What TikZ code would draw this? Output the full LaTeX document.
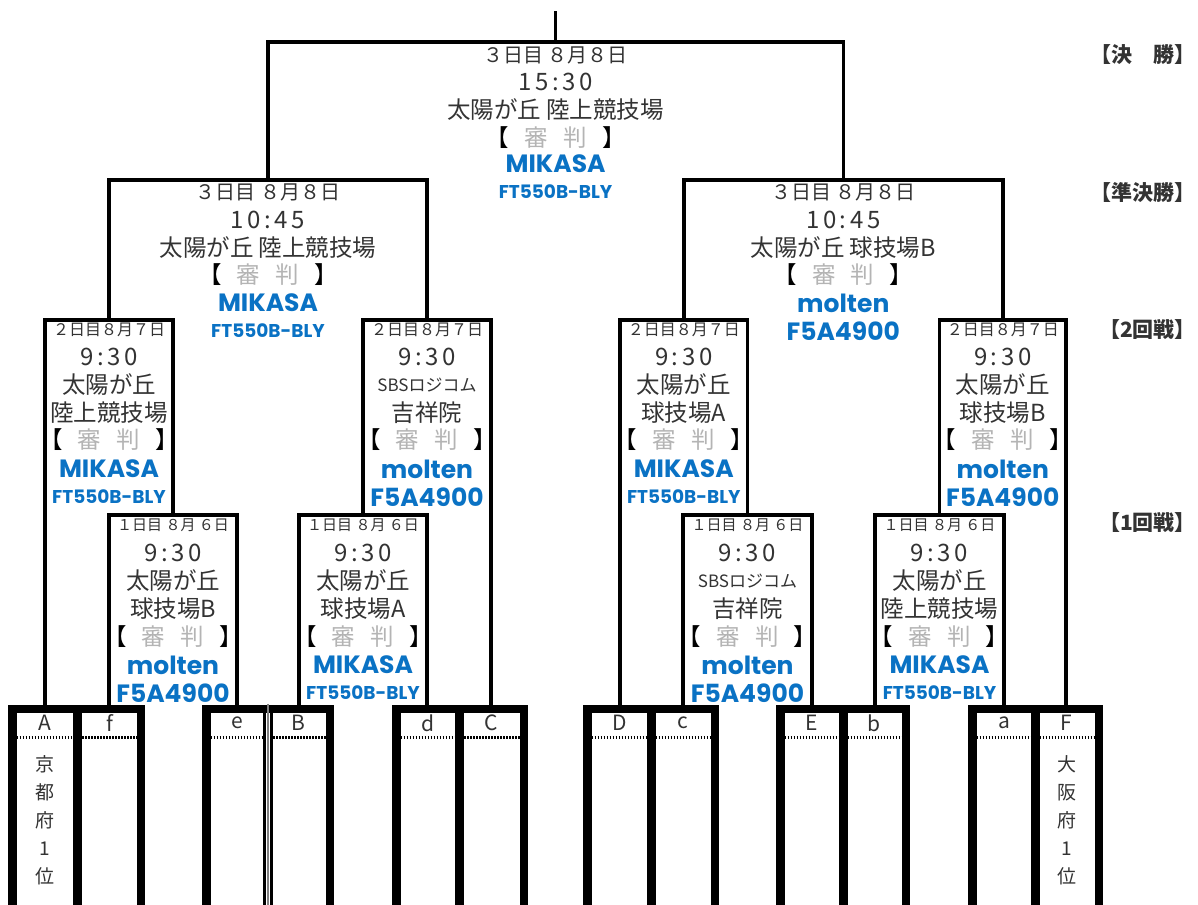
\documentclass[tikz,border=0pt]{standalone}
\usepackage{fontspec}
\setmainfont{Noto Sans CJK JP}
\newfontfamily\pop{Poppins}
\definecolor{txt}{HTML}{333333}
\definecolor{brandc}{HTML}{0A72C4}
\definecolor{judgec}{HTML}{B4B4B4}
\newcommand\fs[1]{\fontsize{#1}{#1}\selectfont}
\newcommand\shinpan{\textcolor{black}{【}\hspace{0.65em}\textcolor{judgec}{審}\hspace{0.65em}\textcolor{judgec}{判}\hspace{0.65em}\textcolor{black}{】}}
\tikzset{
  bracket/.style={line width=3.5pt, line join=miter, line cap=rect},
  dbig/.style={font=\fs{20}, text=txt, inner sep=0pt},
  dmid/.style={font=\fs{16}, text=txt, inner sep=0pt},
  dsmall/.style={font=\fs{15}, text=txt, inner sep=0pt},
  timet/.style={font=\fs{24}\addfontfeature{LetterSpace=15}, text=txt, inner sep=0pt},
  venue/.style={font=\fs{23.5}, text=txt, inner sep=0pt},
  venuesm/.style={font=\fs{17}, text=txt, inner sep=0pt},
  judge/.style={font=\fs{23.5}, inner sep=0pt},
  brand/.style={font=\pop\bfseries\fs{25}, text=brandc, inner sep=0pt},
  model/.style={font=\pop\bfseries\fs{18.5}, text=brandc, inner sep=0pt},
  tlabel/.style={font=\fs{21}, text=txt, inner sep=0pt},
  vtext/.style={font=\fs{19}, text=txt, inner sep=0pt, align=center},
  rlabel/.style={font=\bfseries\fs{21}, text=txt, inner sep=0pt, anchor=east},
  thick box/.style={line width=8.5pt},
  divider/.style={line width=9pt},
  dotline/.style={line width=3pt, dash pattern=on 1.6pt off 1.4pt},
}
\newcommand\mikasa[3]{%
  \node[brand] (#1-b) at (#2,#3) {MIKASA};
  \node[model] (#1-m) at (#2,#3+28) {FT550B-BLY};}
\newcommand\molten[3]{%
  \node[brand] (#1-b) at (#2,#3) {molten};
  \node[brand] (#1-m) at (#2,#3+28) {F5A4900};}
\newcommand\pairbox[3]{%
  \draw[thick box] (#1+4.25,709) rectangle (#2-4.25,940);
  \draw[divider] (#3,709) -- (#3,940);
  \draw[dotline] (#1+8.5,737) -- (#3-4.5,737);
  \draw[dotline] (#3+4.5,737) -- (#2-8.5,737);}
\begin{document}
\begin{tikzpicture}[x=1pt,y=-1pt]
\clip (0,0) rectangle (1198,904);
\fill[white] (0,0) rectangle (1198,904);
% team tops
\coordinate (tA) at (45,705);   \coordinate (tf) at (109,705);
\coordinate (te) at (237,705);  \coordinate (tB) at (299,705);
\coordinate (td) at (427,705);  \coordinate (tC) at (491,705);
\coordinate (tD) at (620,705);  \coordinate (tc) at (683,705);
\coordinate (tE) at (812,705);  \coordinate (tb) at (875,705);
\coordinate (ta) at (1004,705); \coordinate (tF) at (1066,705);
% match points
\coordinate (m1a) at (173,515);   \coordinate (m1b) at (363,515);
\coordinate (m1c) at (747.5,515); \coordinate (m1d) at (939.5,515);
\coordinate (m2a) at (109,320);   \coordinate (m2b) at (427,320);
\coordinate (m2c) at (683.75,320);\coordinate (m2d) at (1002.75,320);
\coordinate (msL) at (268,180);   \coordinate (msR) at (843.25,180);
\coordinate (mF) at (555.6,42);   \coordinate (top) at (555.6,13);
% brackets
\draw[bracket] (tf) |- (m1a) -| (te);
\draw[bracket] (tB) |- (m1b) -| (td);
\draw[bracket] (tc) |- (m1c) -| (tE);
\draw[bracket] (tb) |- (m1d) -| (ta);
\draw[bracket] (tA) |- (m2a) -| (m1a);
\draw[bracket] (m1b) |- (m2b) -| (tC);
\draw[bracket] (tD) |- (m2c) -| (m1c);
\draw[bracket] (m1d) |- (m2d) -| (tF);
\draw[bracket] (m2a) |- (msL) -| (m2b);
\draw[bracket] (m2c) |- (msR) -| (m2d);
\draw[bracket] (msL) |- (mF) -| (msR);
\draw[bracket] (mF) -- (top);
% final
\node[dbig] (F-d) at (555.6,55) {３日目 ８月８日};
\node[timet] (F-t) at (555.6,82) {15:30};
\node[venue] (F-v) at (555.6,110) {太陽が丘 陸上競技場};
\node[judge] (F-j) at (555.6,138) {\shinpan};
\mikasa{F}{555.6}{164}
% semi left
\node[dbig] (SL-d) at (268,192) {３日目 ８月８日};
\node[timet] (SL-t) at (268,220) {10:45};
\node[venue] (SL-v) at (268,248) {太陽が丘 陸上競技場};
\node[judge] (SL-j) at (268,275) {\shinpan};
\mikasa{SL}{268}{303}
% semi right
\node[dbig] (SR-d) at (843.25,192) {３日目 ８月８日};
\node[timet] (SR-t) at (843.25,220) {10:45};
\node[venue] (SR-v) at (843.25,248) {太陽が丘 球技場B};
\node[judge] (SR-j) at (843.25,275) {\shinpan};
\molten{SR}{843.25}{303}
% round 2
\node[dmid] (A2-d) at (109,330) {２日目８月７日};
\node[timet] (A2-t) at (109,357) {9:30};
\node[venue] (A2-v) at (109,385) {太陽が丘};
\node[venue] (A2-w) at (109,413) {陸上競技場};
\node[judge] (A2-j) at (109,440) {\shinpan};
\mikasa{A2}{109}{469}
\node[dmid] (B2-d) at (427,330) {２日目８月７日};
\node[timet] (B2-t) at (427,357) {9:30};
\node[venuesm] (B2-v) at (427,385) {SBSロジコム};
\node[venue] (B2-w) at (427,413) {吉祥院};
\node[judge] (B2-j) at (427,440) {\shinpan};
\molten{B2}{427}{469}
\node[dmid] (C2-d) at (683.75,330) {２日目８月７日};
\node[timet] (C2-t) at (683.75,357) {9:30};
\node[venue] (C2-v) at (683.75,385) {太陽が丘};
\node[venue] (C2-w) at (683.75,413) {球技場A};
\node[judge] (C2-j) at (683.75,440) {\shinpan};
\mikasa{C2}{683.75}{469}
\node[dmid] (D2-d) at (1002.75,330) {２日目８月７日};
\node[timet] (D2-t) at (1002.75,357) {9:30};
\node[venue] (D2-v) at (1002.75,385) {太陽が丘};
\node[venue] (D2-w) at (1002.75,413) {球技場B};
\node[judge] (D2-j) at (1002.75,440) {\shinpan};
\molten{D2}{1002.75}{469}
% round 1
\node[dsmall] (A1-d) at (173,525) {１日目 ８月 ６日};
\node[timet] (A1-t) at (173,553) {9:30};
\node[venue] (A1-v) at (173,581) {太陽が丘};
\node[venue] (A1-w) at (173,609) {球技場B};
\node[judge] (A1-j) at (173,637) {\shinpan};
\molten{A1}{173}{665}
\node[dsmall] (B1-d) at (363,525) {１日目 ８月 ６日};
\node[timet] (B1-t) at (363,553) {9:30};
\node[venue] (B1-v) at (363,581) {太陽が丘};
\node[venue] (B1-w) at (363,609) {球技場A};
\node[judge] (B1-j) at (363,637) {\shinpan};
\mikasa{B1}{363}{665}
\node[dsmall] (C1-d) at (747.5,525) {１日目 ８月 ６日};
\node[timet] (C1-t) at (747.5,553) {9:30};
\node[venuesm] (C1-v) at (747.5,581) {SBSロジコム};
\node[venue] (C1-w) at (747.5,609) {吉祥院};
\node[judge] (C1-j) at (747.5,637) {\shinpan};
\molten{C1}{747.5}{665}
\node[dsmall] (D1-d) at (939.5,525) {１日目 ８月 ６日};
\node[timet] (D1-t) at (939.5,553) {9:30};
\node[venue] (D1-v) at (939.5,581) {太陽が丘};
\node[venue] (D1-w) at (939.5,609) {陸上競技場};
\node[judge] (D1-j) at (939.5,637) {\shinpan};
\mikasa{D1}{939.5}{665}
% team boxes
\pairbox{8}{145}{77.5}
\draw[line width=8.5pt] (202+4.25,709) -- (334-4.25,709);
\draw[line width=8.5pt] (202+4.25,705) -- (202+4.25,940);
\draw[line width=8.5pt] (334-4.25,705) -- (334-4.25,940);
\draw[line width=2.5pt] (264.5,709) -- (264.5,940);
\draw[line width=2.5pt] (271.5,709) -- (271.5,940);
\draw[line width=1.2pt, gray] (268,704) -- (268,940);
\draw[dotline] (210.5,737) -- (263,737);
\draw[dotline] (273,737) -- (325.5,737);
\pairbox{392}{528}{459.5}
\pairbox{583}{719}{651}
\pairbox{776}{910}{843}
\pairbox{968}{1103}{1035}
% team labels
\node[tlabel] (lA) at (45,723) {A};
\node[tlabel] (lf) at (109.5,723) {f};
\node[tlabel] (le) at (237,723) {e};
\node[tlabel] (lB) at (298.5,723) {B};
\node[tlabel] (ld) at (428,723) {d};
\node[tlabel] (lC) at (491.5,723) {C};
\node[tlabel] (lD) at (619.5,723) {D};
\node[tlabel] (lc) at (682.5,723) {c};
\node[tlabel] (lE) at (812,723) {E};
\node[tlabel] (lb) at (874,723) {b};
\node[tlabel] (la) at (1004,723) {a};
\node[tlabel] (lF) at (1066.5,723) {F};
\node[vtext] (kyoto) at (45,820) {京\\[9pt]都\\[9pt]府\\[9pt]1\\[9pt]位};
\node[vtext] (osaka) at (1066.5,820) {大\\[9pt]阪\\[9pt]府\\[9pt]1\\[9pt]位};
% round labels
\node[rlabel] (r-final) at (1196,55) {【決　勝】};
\node[rlabel] (r-semi) at (1196,193) {【準決勝】};
\node[rlabel] (r-two) at (1196,330) {【2回戦】};
\node[rlabel] (r-one) at (1196,523) {【1回戦】};
\end{tikzpicture}
\end{document}
